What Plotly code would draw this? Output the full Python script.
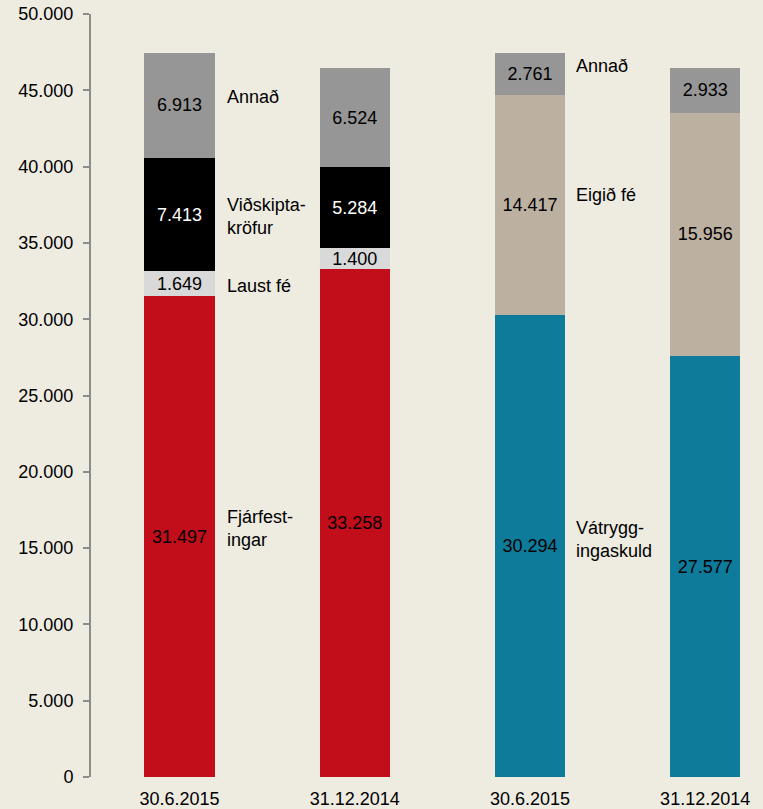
import plotly.graph_objects as go

categories = ["30.6.2015", "31.12.2014", "30.6.2015", "31.12.2014"]
asset_x = [0, 1]
liab_x = [2, 3]

fjarfestingar = [31497, 33258]
laust_fe = [1649, 1400]
vidskiptakrofur = [7413, 5284]
annad_assets = [6913, 6524]

vatryggingaskuld = [30294, 27577]
eigid_fe = [14417, 15956]
annad_liab = [2761, 2933]

series_left = [
    ("Fjárfest-<br>ingar", fjarfestingar, "#C20E1A", "black", 8),
    ("Laust fé", laust_fe, "#D9D9D9", "black", -2),
    ("Viðskipta-<br>kröfur", vidskiptakrofur, "#000000", "white", -2),
    ("Annað", annad_assets, "#969696", "black", 8),
]
series_right = [
    ("Vátrygg-<br>ingaskuld", vatryggingaskuld, "#0F7B9B", "black", 6),
    ("Eigið fé", eigid_fe, "#BCB1A1", "black", 10),
    ("Annað", annad_liab, "#969696", "black", 8),
]

FONT = "Liberation Sans, Arial, sans-serif"
FS = 18


def fmt(v):
    return f"{v:,}".replace(",", ".")


fig = go.Figure()
annotations = []
for xs, group, xshift in ((asset_x, series_left, 10), (liab_x, series_right, 9)):
    base = [0] * len(xs)
    for name, vals, color, tcolor, yshift in group:
        fig.add_trace(go.Bar(
            x=xs, y=vals, name=name.replace("<br>", ""),
            marker=dict(color=color, line=dict(width=0)),
            width=0.4,
            text=[fmt(v) for v in vals],
            textposition="inside", insidetextanchor="middle", textangle=0,
            textfont=dict(family=FONT, size=FS, color=tcolor),
            hoverinfo="skip",
        ))
        mid = base[0] + vals[0] / 2
        annotations.append(dict(
            x=xs[0] + 0.2, y=mid, xref="x", yref="y", text=name,
            showarrow=False, xanchor="left", yanchor="middle", align="left",
            xshift=xshift, yshift=yshift,
            font=dict(family=FONT, size=FS, color="black"),
        ))
        base = [b + v for b, v in zip(base, vals)]

fig.update_layout(
    barmode="stack",
    width=763, height=809,
    margin=dict(l=91, r=0, t=14, b=32),
    paper_bgcolor="#EEEBE0", plot_bgcolor="#EEEBE0",
    showlegend=False,
    separators=",.",
    uniformtext=dict(minsize=FS, mode="show"),
    annotations=annotations,
    font=dict(family=FONT, size=FS, color="black"),
)
fig.update_xaxes(
    range=[-0.505, 3.33], tickvals=[0, 1, 2, 3], ticktext=categories,
    showline=False, showgrid=False, zeroline=False, ticks="",
    ticklabelstandoff=9,
    tickfont=dict(family=FONT, size=FS, color="black"),
)
fig.update_yaxes(
    range=[0, 50000], dtick=5000, tickformat=",",
    showline=True, linecolor="#8C8C8C", linewidth=2,
    ticks="outside", ticklen=6, tickwidth=2, tickcolor="#8C8C8C",
    showgrid=False, zeroline=False,
    ticklabelstandoff=6,
    tickfont=dict(family=FONT, size=FS, color="black"),
)

fig.write_html(
    "out.html",
    config={"displayModeBar": False},
    post_script="document.body.style.margin='0';document.body.style.overflow='hidden';",
)
